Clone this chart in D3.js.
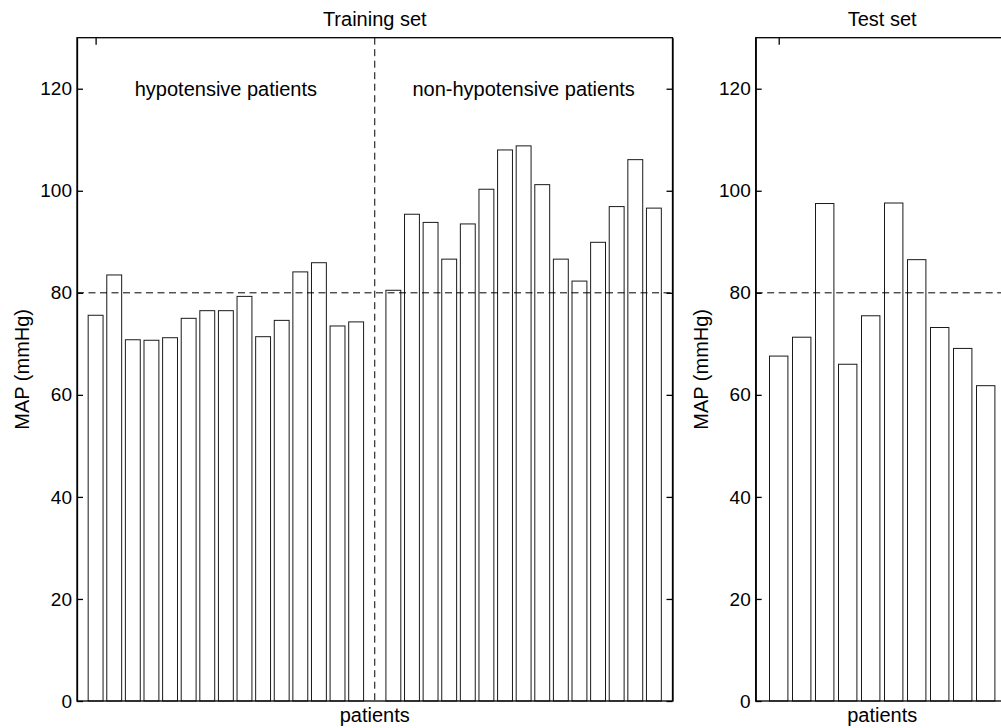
<!DOCTYPE html>
<html lang="en">
<head>
  <meta charset="UTF-8">
  <title>MAP per patient</title>
  <script src="https://d3js.org/d3.v7.min.js"></script>
  <style>
    body { margin: 0; background: #fff; }
    svg { font-family: "Liberation Sans", Arial, Helvetica, sans-serif; }
    .axis text { font-size: 19px; fill: #000; }
    .axis path, .axis line { stroke: #000; stroke-width: 1.3; }
    .lbl { font-size: 20px; fill: #000; }
  </style>
</head>
<body>
  <div id="chart"></div>

  <script>
    // MAP values (mmHg)
    const hypoValues = [75.6, 83.5, 70.8, 70.7, 71.2, 75.0, 76.5, 76.5, 79.3, 71.4, 74.6, 84.1, 85.9, 73.5, 74.3];
    const nonHypoValues = [80.5, 95.4, 93.8, 86.6, 93.5, 100.3, 108.0, 108.8, 101.2, 86.6, 82.3, 89.9, 96.9, 106.1, 96.6];
    const testValues = [67.6, 71.3, 97.5, 66.0, 75.5, 97.6, 86.5, 73.2, 69.1, 61.8];
    const yTicks = [0, 20, 40, 60, 80, 100, 120];
    const threshold = 80;

    const width = 1001;
    const height = 728;
    const plotTop = 37.7, plotBottom = 701;

    const svg = d3.select("#chart")
      .append("svg")
      .attr("width", width)
      .attr("height", height);

    // training set: positions 1..15 and 17..31, divider at 16
    const trainData = hypoValues.map((v, i) => ({ pos: i + 1, value: v }))
      .concat(nonHypoValues.map((v, i) => ({ pos: i + 17, value: v })));
    const testData = testValues.map((v, i) => ({ pos: i + 1, value: v }));

    function panel(opts) {
      const x = d3.scaleLinear().domain(opts.xDomain).range(opts.xRange);
      const y = d3.scaleLinear().domain([0, 130]).range([plotBottom, plotTop]);
      const g = svg.append("g");
      const x0 = opts.xRange[0], x1 = opts.xRange[1];
      const step = x(1) - x(0);

      // x ticks (under the bars)
      g.append("g").attr("class", "axis")
        .attr("transform", `translate(0,${plotTop})`)
        .call(d3.axisTop(x).tickValues([1]).tickSizeInner(-7).tickSizeOuter(0).tickFormat(""))
        .select(".domain").remove();
      g.append("g").attr("class", "axis")
        .attr("transform", `translate(0,${plotBottom})`)
        .call(d3.axisBottom(x).tickValues([1]).tickSizeInner(-7).tickSizeOuter(0).tickFormat(""))
        .select(".domain").remove();

      // bars
      g.selectAll("rect.bar")
        .data(opts.data)
        .enter()
        .append("rect")
        .attr("class", "bar")
        .attr("x", d => x(d.pos) - step * 0.4)
        .attr("width", step * 0.8)
        .attr("y", d => y(d.value))
        .attr("height", d => y(0) - y(d.value))
        .attr("fill", "#fff")
        .attr("stroke", "#1a1a1a")
        .attr("stroke-width", 1);

      // y axes left and right
      g.append("g").attr("class", "axis")
        .attr("transform", `translate(${x0},0)`)
        .call(d3.axisLeft(y).tickValues(yTicks).tickSizeInner(-6).tickSizeOuter(0).tickPadding(5));
      g.append("g").attr("class", "axis")
        .attr("transform", `translate(${x1},0)`)
        .call(d3.axisRight(y).tickValues(yTicks).tickSizeInner(-6).tickSizeOuter(0).tickFormat(""));

      // box
      g.append("rect")
        .attr("x", x0).attr("y", plotTop)
        .attr("width", x1 - x0).attr("height", plotBottom - plotTop)
        .attr("fill", "none").attr("stroke", "#000").attr("stroke-width", 1.3);

      // threshold line
      g.append("line")
        .attr("x1", x0).attr("x2", x1)
        .attr("y1", y(threshold)).attr("y2", y(threshold))
        .attr("stroke", "#000").attr("stroke-width", 1)
        .attr("stroke-dasharray", "7,4.5");

      if (opts.divider) {
        g.append("line")
          .attr("x1", x(opts.divider)).attr("x2", x(opts.divider))
          .attr("y1", plotTop).attr("y2", plotBottom)
          .attr("stroke", "#000").attr("stroke-width", 1)
          .attr("stroke-dasharray", "7,4.5");
      }

      (opts.notes || []).forEach(n => {
        g.append("text").attr("class", "lbl")
          .attr("x", x(n.pos)).attr("y", y(n.value))
          .attr("dy", "0.35em")
          .attr("text-anchor", "middle")
          .text(n.text);
      });

      const cx = (x0 + x1) / 2;
      g.append("text").attr("class", "lbl")
        .attr("x", cx).attr("y", 26)
        .attr("text-anchor", "middle")
        .text(opts.title);
      g.append("text").attr("class", "lbl")
        .attr("x", cx).attr("y", 722)
        .attr("text-anchor", "middle")
        .text("patients");
      g.append("text").attr("class", "lbl")
        .attr("transform", `translate(${x0 - 48},${(plotTop + plotBottom) / 2}) rotate(-90)`)
        .attr("text-anchor", "middle")
        .text("MAP (mmHg)");
    }

    panel({
      data: trainData,
      xDomain: [0, 32],
      xRange: [77, 672.5],
      title: "Training set",
      divider: 16,
      notes: [
        { pos: 8, value: 120, text: "hypotensive patients" },
        { pos: 24, value: 120, text: "non-hypotensive patients" }
      ]
    });

    panel({
      data: testData,
      xDomain: [0, 11],
      xRange: [755.7, 1008.7],
      title: "Test set"
    });
  </script>
</body>
</html>
